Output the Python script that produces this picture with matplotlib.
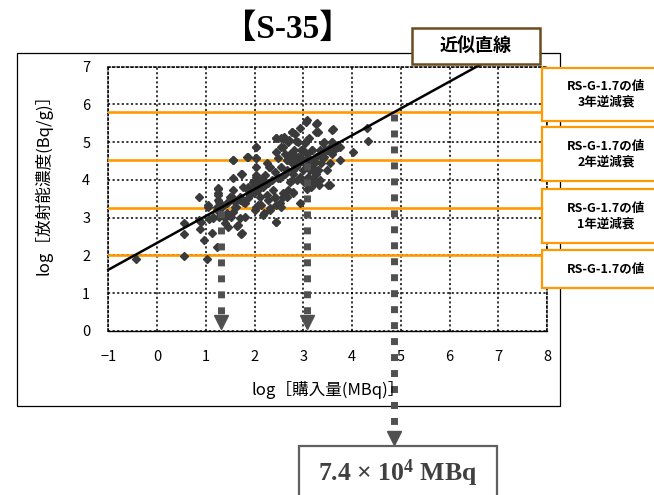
import numpy as np
import matplotlib
matplotlib.use("Agg")
import matplotlib.pyplot as plt
from matplotlib.patches import Rectangle
from matplotlib.transforms import blended_transform_factory

plt.rcParams['font.family'] = ['Noto Sans CJK JP', 'DejaVu Sans']
plt.rcParams['mathtext.fontset'] = 'custom'
plt.rcParams['mathtext.rm'] = 'Liberation Serif:bold'
plt.rcParams['mathtext.it'] = 'Liberation Serif:bold'
plt.rcParams['mathtext.bf'] = 'Liberation Serif:bold'

# ---- texts ----
title = '【S-35】'
x_label = 'log［購入量(MBq)］'
y_label = 'log［放射能濃度(Bq/g)］'
fit_label = '近似直線'

x_ticks = list(range(-1, 9))
y_ticks = list(range(0, 8))

# ---- reference levels (log Bq/g) and their labels ----
ref_levels = [5.8, 4.52, 3.27, 2.0]
ref_labels = ['RS-G-1.7の値\n3年逆減衰',
              'RS-G-1.7の値\n2年逆減衰',
              'RS-G-1.7の値\n1年逆減衰',
              'RS-G-1.7の値']

# ---- fitted line: log(conc) = slope * log(purchase) + intercept ----
fit_slope = 0.712
fit_intercept = 2.333

# purchase amount read at the highest level
result_mbq = 7.4e4

# ---- measured points ----
purchase_log = [
    -0.43, 0.56, 0.56, 0.56, 0.87, 0.87, 0.88, 0.97, 1.02, 1.04, 1.06, 1.12, 1.15, 1.22,
    1.26, 1.26, 1.28, 1.28, 1.24, 1.34, 1.39, 1.43, 1.46, 1.49, 1.51, 1.56, 1.56, 1.60,
    1.63, 1.65, 1.70, 1.70, 1.75, 1.75, 1.77, 1.81, 1.85, 1.87, 1.91, 1.94, 1.97, 2.01,
    2.03, 2.03, 2.03, 2.04, 2.06, 2.08, 2.08, 2.11, 2.14, 2.18, 2.19, 2.21, 2.25, 2.28,
    2.30, 2.32, 2.35, 2.38, 2.42, 2.44, 2.45, 2.49, 2.52, 2.55, 2.55, 2.58, 2.59, 2.62,
    2.66, 2.66, 2.71, 2.72, 2.72, 2.76, 2.76, 2.79, 2.79, 2.81, 2.83, 2.86, 2.86, 2.88,
    2.90, 2.92, 2.93, 2.94, 2.96, 2.98, 3.00, 3.01, 3.03, 3.05, 3.07, 3.08, 3.10, 3.12,
    3.14, 3.16, 3.17, 3.19, 3.22, 3.24, 3.26, 3.27, 3.29, 3.31, 3.33, 3.34, 3.37, 3.41,
    3.42, 3.44, 3.51, 3.55, 3.58, 3.58, 3.61, 3.72, 3.75, 4.02, 4.30, 4.33,
    2.44, 2.60, 2.76, 2.83, 2.90, 3.07, 3.27, 3.30, 3.60, 3.42, 3.58, 3.75,
    2.45, 2.62, 2.48, 2.66, 2.76, 2.86, 2.93, 3.00, 3.10, 3.17, 3.24, 3.34, 3.41, 3.48,
    3.27, 3.34, 3.54, 3.10, 3.07, 2.79, 2.69, 2.76, 2.52, 2.42, 2.31, 2.25, 2.59, 2.42,
    2.28, 2.45, 2.55, 2.45, 2.18, 2.11, 2.04, 2.04, 2.04, 1.87, 1.73, 1.56, 1.56, 1.97,
    1.84, 1.90, 1.70, 1.56, 1.53, 1.43, 1.60, 1.80, 2.04, 2.14, 2.31, 2.18, 2.01, 1.66,
    1.73, 1.46, 1.39, 1.25, 1.25, 1.25, 1.22, 1.15, 1.05, 0.91, 1.87, 1.77, 2.66, 2.79,
    2.93, 3.13, 3.20, 3.30, 3.54, 3.48, 3.58, 3.64, 2.79, 3.07, 3.17, 2.69, 2.55,
]
conc_log = [
    1.92, 2.85, 2.56, 1.99, 3.56, 2.94, 2.69, 2.41, 1.91, 3.34, 2.96, 2.60, 3.03, 3.20,
    3.80, 3.65, 3.42, 3.03, 2.23, 3.29, 2.85, 3.12, 3.42, 3.56, 3.03, 4.53, 3.16, 3.42,
    3.29, 2.79, 3.56, 2.98, 2.60, 4.17, 3.42, 3.38, 4.62, 3.82, 3.60, 3.82, 3.95, 3.69,
    4.88, 4.57, 4.35, 4.09, 3.91, 3.73, 3.34, 3.56, 4.00, 3.82, 3.12, 4.13, 3.60, 3.91,
    4.35, 3.20, 4.00, 3.73, 3.56, 5.10, 2.90, 4.04, 3.38, 4.35, 5.10, 3.65, 4.88, 4.17,
    4.53, 3.56, 5.06, 4.70, 3.95, 4.44, 5.28, 4.26, 3.65, 4.79, 4.57, 5.03, 4.35, 3.99,
    4.62, 4.44, 3.38, 5.37, 4.79, 4.53, 4.26, 3.95, 4.97, 5.54, 4.40, 4.70, 4.09, 5.10,
    4.53, 3.82, 4.79, 4.26, 4.44, 3.95, 5.28, 4.62, 5.50, 4.26, 3.87, 4.79, 4.44, 4.97,
    4.62, 4.79, 3.87, 4.88, 5.32, 5.01, 4.79, 4.88, 4.53, 4.75, 5.37, 5.04,
    5.12, 5.14, 5.27, 5.23, 5.01, 5.58, 5.49, 5.27, 5.34, 5.01, 5.01, 4.88,
    4.74, 4.70, 4.57, 4.52, 4.48, 4.39, 4.61, 4.79, 4.57, 4.35, 4.48, 4.70, 4.57, 4.79,
    4.17, 3.99, 3.86, 3.99, 3.77, 3.69, 3.73, 3.99, 4.04, 4.21, 4.35, 4.44, 3.55, 3.51,
    3.47, 3.33, 3.29, 2.89, 3.99, 3.91, 4.13, 4.57, 4.88, 4.61, 4.17, 4.04, 4.52, 3.82,
    3.77, 3.64, 3.47, 3.73, 3.55, 3.38, 3.29, 3.02, 3.29, 3.33, 3.25, 3.07, 3.20, 2.80,
    2.58, 2.76, 2.98, 3.77, 3.60, 3.47, 3.29, 2.98, 3.29, 2.89, 3.51, 3.82, 4.26, 4.17,
    4.08, 4.26, 4.04, 4.26, 4.44, 4.26, 4.70, 4.79, 4.70, 5.05, 4.79, 5.01, 4.88,
]

W, H = 654, 495
fig = plt.figure(figsize=(W / 100, H / 100), dpi=100)


def fx(px):
    return px / W


def fy(py):
    return 1 - py / H


ax_l, ax_r, ax_t, ax_b = 108.3, 547.0, 66.7, 331.0
ax = fig.add_axes([fx(ax_l), fy(ax_b), fx(ax_r) - fx(ax_l), fy(ax_t) - fy(ax_b)])
ax.patch.set_alpha(0)
ax.set_xlim(x_ticks[0], x_ticks[-1])
ax.set_ylim(y_ticks[0], y_ticks[-1])
ax.set_xticks(x_ticks)
ax.set_yticks(y_ticks)
ax.tick_params(length=0, labelsize=10.5)
ax.tick_params(axis='y', pad=13)
ax.tick_params(axis='x', pad=14)

dot = (0, (1.4, 1.6))
ax.grid(True, color='black', linestyle=dot, linewidth=1.1)
for side in ('top', 'left', 'right'):
    ax.spines[side].set_linestyle(dot)
    ax.spines[side].set_linewidth(1.1)
ax.spines['bottom'].set_linewidth(1.0)

# outer chart frame
fig.add_artist(Rectangle((fx(17), fy(406)), fx(560) - fx(17), fy(53) - fy(406),
                         transform=fig.transFigure, fill=False, ec='black', lw=0.9, zorder=-1))

# reference levels
orange = '#ff9900'
for lv in ref_levels:
    ax.axhline(lv, color=orange, lw=1.9, zorder=3)

# scatter
ax.plot(purchase_log, conc_log, ls='none', marker='D', ms=3.6, color='#3a3a3a',
        mec='#3a3a3a', zorder=4)

# fitted line
x_top = (7.08 - fit_intercept) / fit_slope
xs = np.array([x_ticks[0], x_top])
ax.plot(xs, fit_slope * xs + fit_intercept, color='black', lw=1.8, zorder=5, clip_on=False)

# read-off arrows
arrow_color = '#505050'
dash = (0, (1, 1.3))
px_per_y = (ax_b - ax_t) / (y_ticks[-1] - y_ticks[0])
for i, lv in enumerate(ref_levels[:3]):
    xa = (lv - fit_intercept) / fit_slope
    if i == 0:
        # runs out of the plot down to the result box
        tr = blended_transform_factory(ax.transData, fig.transFigure)
        y0_fig = fig.transFigure.inverted().transform(ax.transData.transform((xa, lv)))[1]
        ax.plot([xa, xa], [y0_fig - 0.004, fy(429)], transform=tr, color=arrow_color,
                lw=5, linestyle=dash, dash_capstyle='butt', zorder=6, clip_on=False)
        ax.plot([xa], [fy(438)], transform=tr, marker='v', ms=10.5, color=arrow_color,
                ls='none', zorder=6, clip_on=False)
    else:
        ax.plot([xa, xa], [lv - 0.08, 0.45], color=arrow_color, lw=5, linestyle=dash,
                dash_capstyle='butt', zorder=6)
        ax.plot([xa], [0.04 + 7 / px_per_y], marker='v', ms=10.5, color=arrow_color,
                ls='none', zorder=6, clip_on=False)

# axis labels and title
fig.text(fx(328), fy(390), x_label, ha='center', va='center', fontsize=12)
fig.text(fx(43), fy(180), y_label, ha='center', va='center', fontsize=12, rotation=90)
fig.text(fx(288), fy(29), title, ha='center', va='center', fontsize=24, weight='bold',
         family=['Liberation Serif', 'Noto Sans CJK JP'])

# fitted-line callout
fig.add_artist(Rectangle((fx(411.7), fy(64.3)), fx(540) - fx(411.7), fy(27.7) - fy(64.3),
                         transform=fig.transFigure, fc='white', ec='#6b4c1e', lw=1.8, zorder=5))
fig.text(fx(476), fy(46.5), fit_label, ha='center', va='center', fontsize=13,
         weight='bold', zorder=6)

# reference level label boxes
box_rows = [(68, 121), (127, 181), (189, 243), (250, 288)]
for (top, bot), lab in zip(box_rows, ref_labels):
    fig.add_artist(Rectangle((fx(542), fy(bot)), fx(680) - fx(542), fy(top) - fy(bot),
                             transform=fig.transFigure, fc='white', ec=orange, lw=1.6,
                             zorder=5))
    fig.text(fx(606), fy((top + bot) / 2), lab, ha='center', va='center', fontsize=9,
             weight='bold', linespacing=1.25, zorder=6)

# result box
exp = int(np.floor(np.log10(result_mbq)))
mant = result_mbq / 10 ** exp
fig.add_artist(Rectangle((fx(299), fy(510)), fx(497) - fx(299), fy(446) - fy(510),
                         transform=fig.transFigure, fc='white', ec='#606060', lw=1.6,
                         zorder=5))
fig.text(fx(398), fy(473), f'{mant:.1f} × 10$^{{{exp}}}$ MBq', ha='center', va='center',
         fontsize=18.5, color='#404040', family=['Liberation Serif'], weight='bold', zorder=6)

fig.savefig('out.png', dpi=100)
